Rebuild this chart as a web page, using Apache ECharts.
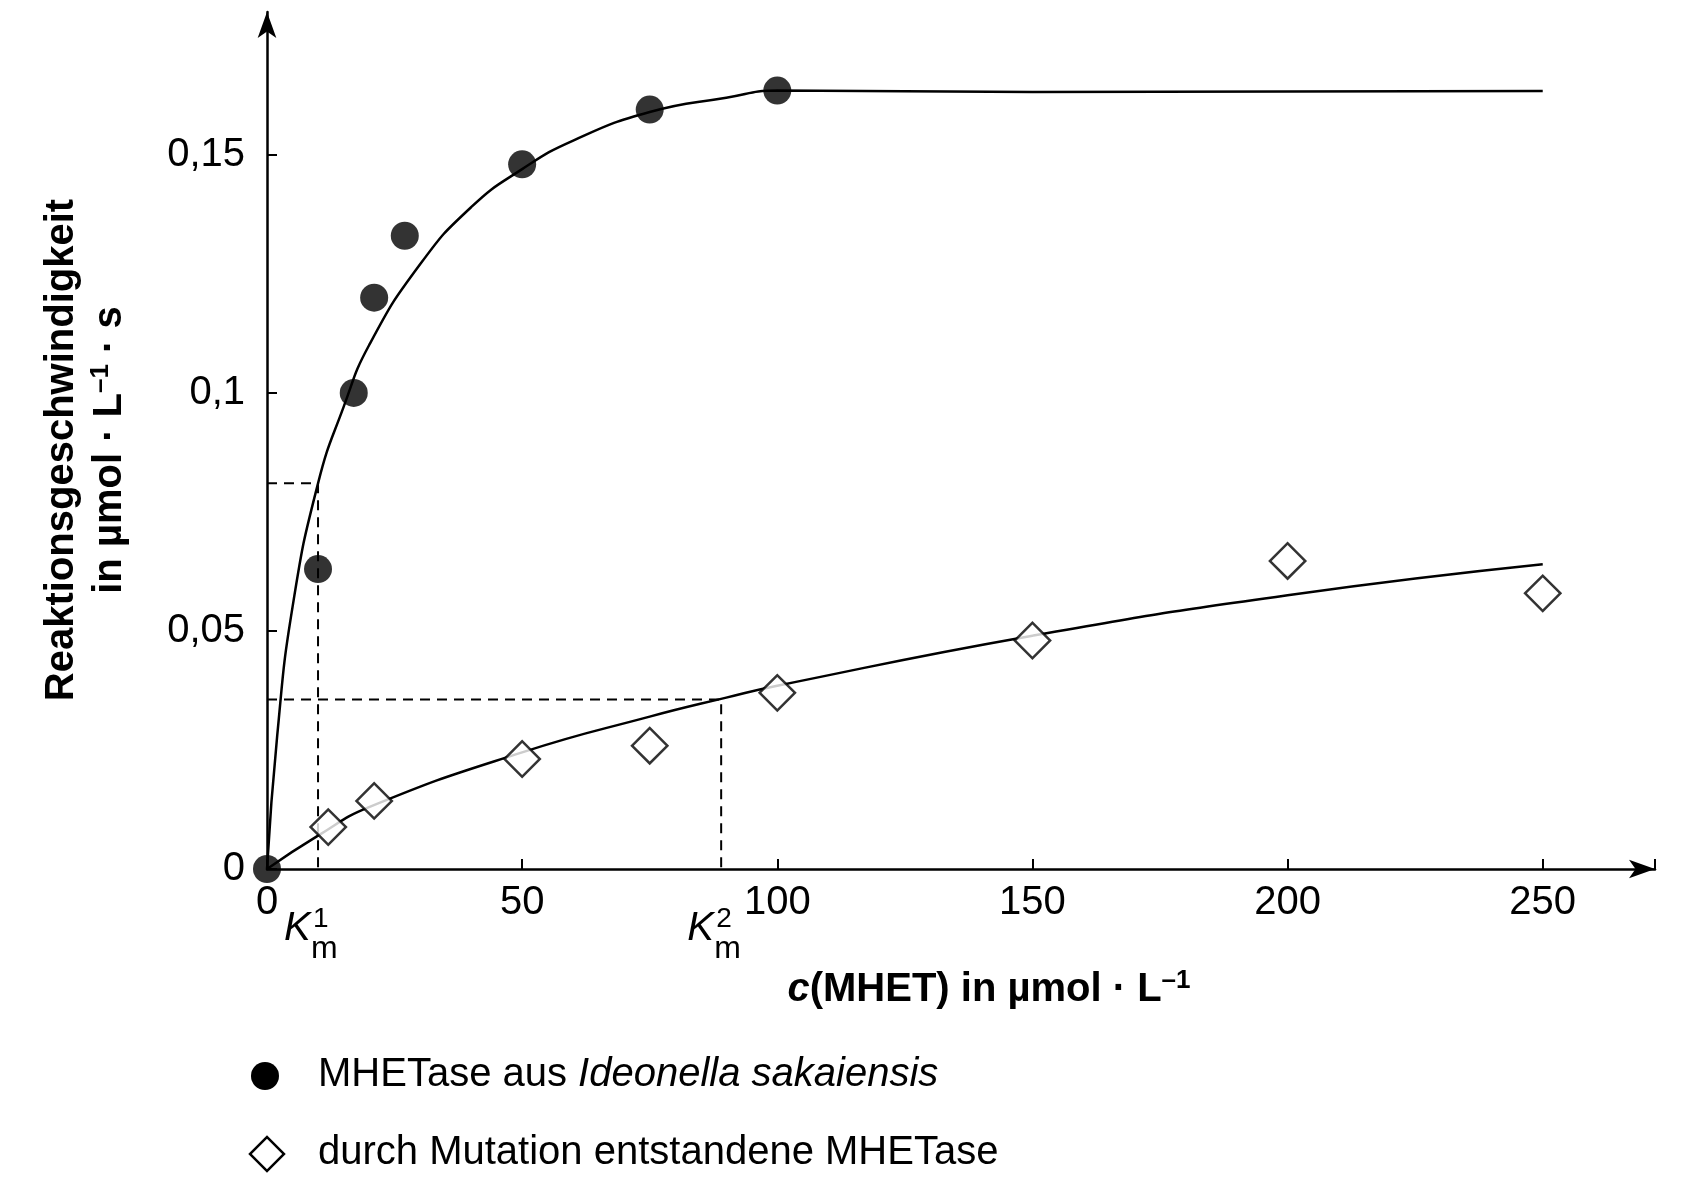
<!DOCTYPE html>
<html><head><meta charset="utf-8">
<script src="https://cdn.jsdelivr.net/npm/echarts@6/dist/echarts.min.js"></script>
<style>html,body{margin:0;background:#fff}#main{width:1686px;height:1191px}</style>
</head><body><div id="main"></div>
<script>
var FONT = '"Liberation Sans", Arial, sans-serif';

// measured points
var wildX = [0, 10, 17, 21, 27, 50, 75, 100];
var wildY = [0, 0.063, 0.1, 0.12, 0.133, 0.148, 0.1595, 0.1635];
var mutX = [12, 21, 50, 75, 100, 150, 200, 250];
var mutY = [0.0088, 0.0143, 0.0231, 0.0259, 0.037, 0.048, 0.0647, 0.0579];
// fitted curves
var fit1X = [0, 2, 5, 10, 15, 20, 30, 40, 50, 60, 75, 90, 100, 150, 200, 250];
var fit1Y = [0, 0.028, 0.055, 0.081, 0.097, 0.11, 0.127, 0.139, 0.147, 0.153, 0.159, 0.162, 0.1635, 0.1632, 0.1633, 0.1634];
var fit2X = [0, 10, 20, 50, 75, 90, 100, 150, 200, 250];
var fit2Y = [0, 0.007, 0.013, 0.0245, 0.032, 0.036, 0.0385, 0.049, 0.0575, 0.064];
var km1 = [10, 0.081];
var km2 = [89, 0.0356];
var xTicks = [0, 50, 100, 150, 200, 250];

function zip(a, b) { return a.map(function (v, i) { return [v, b[i]]; }); }

var app = echarts.init(document.getElementById('main'));
var dash = {color: '#000', type: [10, 7], width: 2};
var option = {
    animation: false,
    grid: {left: 267, right: 31, top: 12, bottom: 322},
    xAxis: {
        type: 'value', min: 0, max: 272, interval: 50,
        axisLine: {symbol: ['none', 'arrow'], symbolSize: [14, 26], lineStyle: {color: '#000', width: 2.5}},
        axisTick: {length: -10, lineStyle: {color: '#000', width: 2}},
        axisLabel: {color: '#000', fontSize: 40, fontFamily: FONT, margin: 14,
            formatter: function (v) { return xTicks.indexOf(v) >= 0 ? v : ''; }},
        splitLine: {show: false}
    },
    yAxis: {
        type: 'value', min: 0, max: 0.18, interval: 0.05,
        axisLine: {show: true, symbol: ['none', 'arrow'], symbolSize: [14, 26], lineStyle: {color: '#000', width: 2.5}},
        axisTick: {length: -10, lineStyle: {color: '#000', width: 2}},
        axisLabel: {color: '#000', fontSize: 40, fontFamily: FONT, margin: 22, showMaxLabel: false,
            formatter: function (v) { return v === 0 ? '0' : String(+v.toFixed(2)).replace('.', ','); }},
        splitLine: {show: false}
    },
    series: [
        {type: 'line', data: zip(fit1X, fit1Y), smooth: true, symbol: 'none', lineStyle: {color: '#000', width: 2.5}, z: 2},
        {type: 'line', data: zip(fit2X, fit2Y), smooth: true, symbol: 'none', lineStyle: {color: '#000', width: 2.5}, z: 2},
        {type: 'line', data: [[0, km1[1]], km1, [km1[0], 0]], symbol: 'none', lineStyle: dash, z: 1},
        {type: 'line', data: [[0, km2[1]], km2, [km2[0], 0]], symbol: 'none', lineStyle: dash, z: 1},
        {type: 'scatter', data: zip(mutX, mutY), symbol: 'rect', symbolRotate: 45, symbolSize: 25,
            itemStyle: {color: '#fff', borderColor: '#000', borderWidth: 2.5}, z: 3},
        {type: 'scatter', data: zip(wildX, wildY), symbol: 'circle', symbolSize: 28,
            itemStyle: {color: '#000'}, z: 4}
    ]
};
app.setOption(option);

var p1 = app.convertToPixel({gridIndex: 0}, [km1[0], 0]);
var p2 = app.convertToPixel({gridIndex: 0}, [km2[0], 0]);
function kmLabel(p, sup) {
    return [
        {type: 'text', left: p[0] - 34, top: p[1] + 40, style: {text: 'K', font: 'italic 40px ' + FONT, fill: '#000'}},
        {type: 'text', left: p[0] - 7, top: p[1] + 64, style: {text: 'm', font: '32px ' + FONT, fill: '#000'}},
        {type: 'text', left: p[0] - 5, top: p[1] + 36, style: {text: sup, font: '28px ' + FONT, fill: '#000'}}
    ];
}
var g = [].concat(kmLabel(p1, '1'), kmLabel(p2, '2'));
g.push({
    type: 'text', x: 989, y: 990,
    style: {text: '{i|c}{b|(MHET) in µmol · L}{s|–1}', align: 'center', verticalAlign: 'middle', fill: '#000',
        rich: {i: {font: 'italic bold 40px ' + FONT}, b: {font: 'bold 40px ' + FONT},
            s: {font: 'bold 26px ' + FONT, verticalAlign: 'top', padding: [0, 0, 18, 0]}}}
});
g.push({
    type: 'text', x: 62, y: 450, rotation: Math.PI / 2,
    style: {text: 'Reaktionsgeschwindigkeit', font: 'bold 40px ' + FONT, align: 'center', verticalAlign: 'middle', fill: '#000'}
});
g.push({
    type: 'text', x: 110, y: 450, rotation: Math.PI / 2,
    style: {text: '{b|in µmol · L}{s|–1}{b| · s}', align: 'center', verticalAlign: 'middle', fill: '#000',
        rich: {b: {font: 'bold 40px ' + FONT}, s: {font: 'bold 26px ' + FONT, padding: [0, 0, 18, 0]}}}
});
g.push({type: 'circle', shape: {cx: 265, cy: 1076, r: 14}, style: {fill: '#000'}});
g.push({type: 'text', left: 318, top: 1055,
    style: {text: 'MHETase aus {i|Ideonella sakaiensis}', font: '40px ' + FONT, fill: '#000',
        rich: {i: {font: 'italic 40px ' + FONT}}}});
g.push({type: 'rect', x: 267, y: 1154, rotation: Math.PI / 4, shape: {x: -12, y: -12, width: 24, height: 24},
    style: {fill: '#fff', stroke: '#000', lineWidth: 2.5}});
g.push({type: 'text', left: 318, top: 1133,
    style: {text: 'durch Mutation entstandene MHETase', font: '40px ' + FONT, fill: '#000'}});
app.setOption({graphic: g});
</script>
</body></html>
